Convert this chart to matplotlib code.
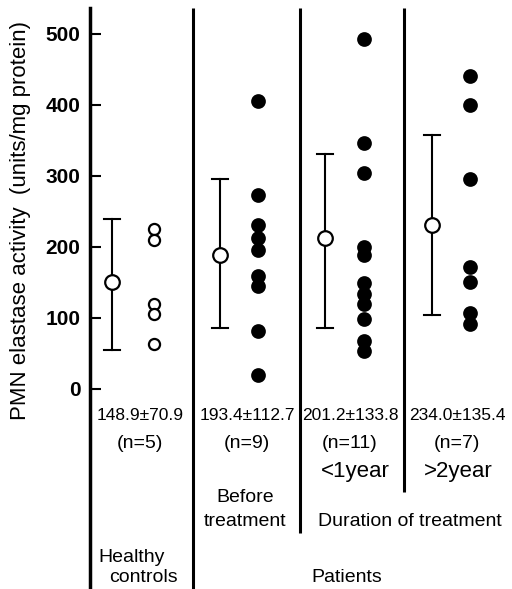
import matplotlib
matplotlib.use("Agg")
import matplotlib.pyplot as plt
import numpy as np

plt.rcParams['font.family'] = ['Liberation Sans', 'DejaVu Sans']

# ---- data ----
groups = ["Healthy controls", "Before treatment", "<1 year", ">2 year"]
means = [148.9, 193.4, 201.2, 234.0]
plotted_means = [150, 189, 213, 231]
err_low = [55, 86, 86, 104]
err_high = [239, 295, 330, 357]
summary_labels = ["148.9\u00b170.9", "193.4\u00b1112.7", "201.2\u00b1133.8", "234.0\u00b1135.4"]
n_labels = ["(n=5)", "(n=9)", "(n=11)", "(n=7)"]
healthy_pts = [225, 209, 120, 106, 63]
before_pts = [405, 273, 230, 213, 196, 159, 145, 82, 19]
lt1yr_pts = [492, 346, 304, 200, 188, 149, 134, 120, 99, 68, 53]
gt2yr_pts = [440, 400, 295, 171, 151, 107, 91]
points = [healthy_pts, before_pts, lt1yr_pts, gt2yr_pts]
filled = [False, True, True, True]
yticks = [0, 100, 200, 300, 400, 500]

# ---- layout (pixel-based) ----
W, H = 512, 589
fig = plt.figure(figsize=(W / 100, H / 100), dpi=100)
y0_px = 389.0
px_per_unit = 0.711
def val(py):
    return (y0_px - py) / px_per_unit

ax = fig.add_axes([90 / W, 0, (W - 90) / W, 1])
ax.set_xlim(90, W)
ax.set_ylim(val(H), val(0))
for s in ['top', 'right', 'bottom']:
    ax.spines[s].set_visible(False)
ax.spines['left'].set_linewidth(2.5)
ax.spines['left'].set_bounds(val(H), val(8))
ax.set_xticks([])
ax.set_yticks(yticks)
ax.tick_params(axis='y', direction='in', length=8, width=1.5, labelsize=15, pad=7)
for lab in ax.get_yticklabels():
    lab.set_fontweight('bold')

mean_x = [112, 220, 325, 432]
pts_x = [154, 258, 364, 470]
sep_x = [193, 300, 404]
sep_bottom_px = [589, 533, 492]
for sx, sb in zip(sep_x, sep_bottom_px):
    ax.plot([sx, sx], [val(sb), val(8)], color='black', lw=2.2, solid_capstyle='butt')

for i in range(4):
    mx = mean_x[i]
    ax.plot([mx, mx], [err_low[i], err_high[i]], color='black', lw=1.5)
    for yv in (err_low[i], err_high[i]):
        ax.plot([mx - 8, mx + 8], [yv, yv], color='black', lw=1.5)
    ax.plot([mx], [plotted_means[i]], 'o', ms=10.5, mfc='white', mec='black', mew=1.6, zorder=5)
    pv = points[i]
    ax.plot([pts_x[i]] * len(pv), pv, 'o', ms=9 if filled[i] else 8,
            mfc='black' if filled[i] else 'white', mec='black', mew=1.6, zorder=5)

def ftext(x, y, s, size=14):
    fig.text(x / W, 1 - y / H, s, ha='center', va='center', fontsize=size)

text_x = [140, 247, 350, 457]
for i in range(4):
    ftext(text_x[i], 415, summary_labels[i], 12.5)
    ftext(text_x[i], 443, n_labels[i])
ftext(355, 472, "<1year", 16)
ftext(458, 472, ">2year", 16)
ftext(245, 497, "Before")
ftext(245, 522, "treatment")
ftext(410, 522, "Duration of treatment")
ftext(132, 558, "Healthy")
ftext(143, 578, "controls")
ftext(347, 577, "Patients")

fig.text(21 / W, 1 - 220 / H, "PMN elastase activity  (units/mg protein)",
         rotation=90, ha='center', va='center', fontsize=16)

fig.savefig("out.png", dpi=100)
